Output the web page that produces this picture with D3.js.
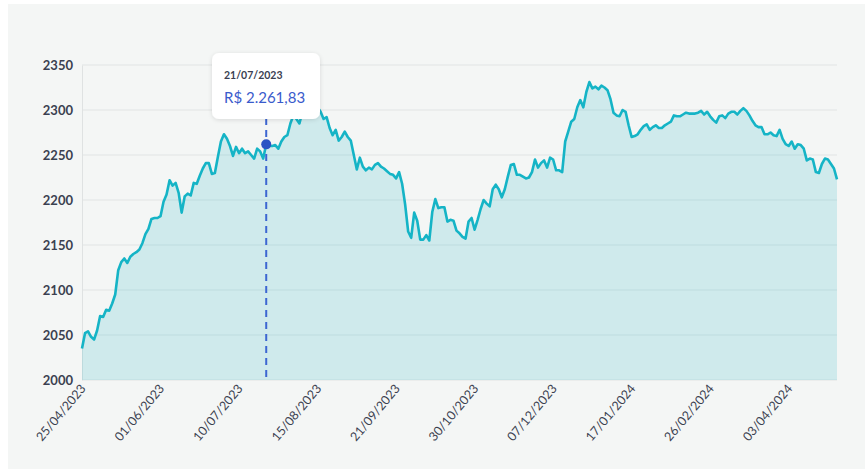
<!DOCTYPE html>
<html>
<head>
<meta charset="utf-8">
<script src="https://cdn.jsdelivr.net/npm/d3@7"></script>
<style>
  html, body { margin: 0; padding: 0; background: #ffffff; }
  svg { display: block; }
</style>
</head>
<body>
<svg id="chart" width="865" height="469"></svg>
<script>
// ---- data ----
const values = [
  2035, 2052, 2054, 2048, 2045, 2055, 2071, 2070, 2078, 2077,
  2085, 2095, 2122, 2131, 2135, 2130, 2137, 2140, 2142, 2145,
  2152, 2162, 2168, 2179, 2180, 2180, 2182, 2198, 2206, 2222,
  2216, 2219, 2208, 2186, 2204, 2207, 2205, 2219, 2218, 2227,
  2235, 2241, 2241, 2229, 2230, 2248, 2265, 2273, 2268, 2260,
  2249, 2259, 2252, 2257, 2252, 2254, 2250, 2246, 2257, 2254,
  2246, 2261.83, 2260, 2260, 2261, 2257, 2265, 2270, 2272, 2285,
  2294, 2290, 2285, 2298, 2304, 2300, 2306, 2300, 2303, 2298,
  2290, 2292, 2280, 2272, 2278, 2266, 2270, 2276, 2270, 2266,
  2250, 2234, 2247, 2237, 2233, 2236, 2234, 2239, 2241, 2237,
  2235, 2232, 2229, 2228, 2224, 2231, 2218, 2195, 2165, 2158,
  2186, 2177, 2156, 2156, 2161, 2155, 2187, 2201, 2191, 2192,
  2192, 2176, 2178, 2177, 2166, 2163, 2159, 2157, 2176, 2180,
  2167, 2178, 2190, 2200, 2196, 2193, 2212, 2217, 2212, 2203,
  2212, 2226, 2239, 2240, 2228, 2228, 2226, 2224, 2225, 2231,
  2245, 2236, 2241, 2244, 2236, 2247, 2245, 2233, 2233, 2231,
  2265, 2276, 2287, 2290, 2303, 2311, 2303, 2320, 2331, 2324,
  2326, 2323, 2327, 2325, 2322, 2312, 2297, 2294, 2293, 2300,
  2298, 2283, 2270, 2271, 2273, 2278, 2282, 2284, 2278, 2281,
  2283, 2280, 2280, 2283, 2285, 2287, 2294, 2293, 2293, 2295,
  2297, 2296, 2296, 2296, 2297, 2299, 2295, 2298, 2293, 2289,
  2286, 2293, 2294, 2291, 2296, 2298, 2298, 2295, 2299, 2302,
  2299, 2294, 2288, 2283, 2281, 2281, 2273, 2273, 2275, 2272,
  2271, 2278, 2268, 2262, 2260, 2265, 2257, 2262, 2261, 2257,
  2244, 2246, 2245, 2231, 2230, 2240, 2246, 2245, 2240, 2235,
  2223
];
const tickIndex = [0, 26, 52, 78, 104, 130, 156, 182, 208, 234];
const tickLabels = ["25/04/2023", "01/06/2023", "10/07/2023", "15/08/2023", "21/09/2023",
                    "30/10/2023", "07/12/2023", "17/01/2024", "26/02/2024", "03/04/2024"];
const yTicks = [2000, 2050, 2100, 2150, 2200, 2250, 2300, 2350];
const tipIndex = 61;
const tipDate = "21/07/2023";
const tipValue = "R$ 2.261,83";

// ---- layout ----
const svg = d3.select("#chart");
const L = 82, R = 837, T = 65, B = 380;
const font = "Lato, 'Noto Sans', sans-serif";

svg.append("rect").attr("x", 8).attr("y", 4).attr("width", 857).attr("height", 465)
  .attr("fill", "#f4f6f5");

const x = d3.scaleLinear().domain([0, values.length - 1]).range([L, R]);
const y = d3.scaleLinear().domain([2000, 2350]).range([B, T]);

// grid
svg.append("g").selectAll("line").data(yTicks).join("line")
  .attr("x1", L).attr("x2", R)
  .attr("y1", d => y(d)).attr("y2", d => y(d))
  .attr("stroke", "#e1e4e4").attr("stroke-width", 1);

// y axis
const yAxis = svg.append("g").attr("transform", `translate(${L},0)`)
  .call(d3.axisLeft(y).tickValues(yTicks).tickSize(0).tickPadding(9).tickFormat(d3.format("d")));
yAxis.select(".domain").attr("stroke", "#dfe2e2");
yAxis.selectAll("text").attr("font-family", font).attr("font-size", 13)
  .attr("font-weight", 700).attr("fill", "#3b4150");

// area + line
const area = d3.area().x((d, i) => x(i)).y0(y(2000)).y1(d => y(d));
const line = d3.line().x((d, i) => x(i)).y(d => y(d));
svg.append("path").datum(values).attr("d", area)
  .attr("fill", "#17b3c5").attr("fill-opacity", 0.17);
svg.append("path").datum(values).attr("d", line)
  .attr("fill", "none").attr("stroke", "#15b4c6").attr("stroke-width", 2.6)
  .attr("stroke-linejoin", "round");

// x axis labels
const xAxis = svg.append("g").attr("transform", `translate(0,${B})`)
  .call(d3.axisBottom(x).tickValues(tickIndex).tickSize(0).tickPadding(0)
    .tickFormat((d, i) => tickLabels[i]));
xAxis.select(".domain").remove();
xAxis.selectAll("text")
  .attr("font-family", font).attr("font-size", 12.5).attr("fill", "#3b4150")
  .attr("text-anchor", "end").attr("dy", 0)
  .attr("transform", "translate(4,9) rotate(-50)");

// crosshair + tooltip
const tx = x(tipIndex), ty = y(values[tipIndex]);
svg.append("line").attr("x1", tx).attr("x2", tx).attr("y1", 118).attr("y2", B)
  .attr("stroke", "#3d66d2").attr("stroke-width", 2).attr("stroke-dasharray", "7,5");
svg.append("circle").attr("cx", tx).attr("cy", ty).attr("r", 5).attr("fill", "#2c53c4");

const defs = svg.append("defs");
const f = defs.append("filter").attr("id", "sh").attr("x", "-20%").attr("y", "-20%")
  .attr("width", "140%").attr("height", "160%");
f.append("feDropShadow").attr("dx", 0).attr("dy", 1).attr("stdDeviation", 2)
  .attr("flood-color", "#000").attr("flood-opacity", 0.12);

const tip = svg.append("g");
tip.append("rect").attr("x", 212).attr("y", 53).attr("width", 108).attr("height", 66)
  .attr("rx", 7).attr("fill", "#ffffff").attr("filter", "url(#sh)");
tip.append("text").attr("x", 224).attr("y", 79).text(tipDate)
  .attr("font-family", font).attr("font-size", 10.5).attr("font-weight", 700).attr("fill", "#3a3f52");
tip.append("text").attr("x", 224).attr("y", 103).text(tipValue)
  .attr("font-family", font).attr("font-size", 15).attr("fill", "#3a5bcc");
</script>
</body>
</html>
